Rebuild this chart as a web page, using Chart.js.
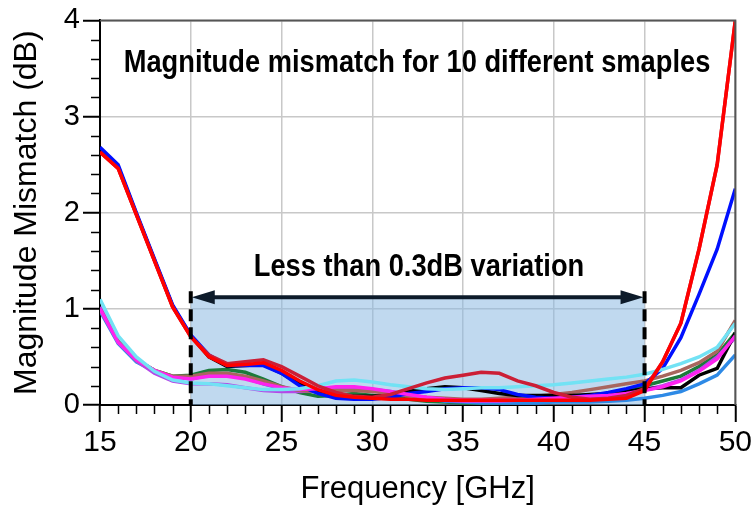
<!DOCTYPE html>
<html>
<head>
<meta charset="utf-8">
<script src="https://cdn.jsdelivr.net/npm/chart.js@4.4.1/dist/chart.umd.min.js"></script>
<style>
  html, body { margin: 0; padding: 0; background: #fff; }
</style>
</head>
<body>
<canvas id="chart" width="755" height="512"></canvas>
<script>
// frequency points, 1 GHz apart
const freqs = [15,16,17,18,19,20,21,22,23,24,25,26,27,28,29,30,31,32,33,34,35,36,37,38,39,40,41,42,43,44,45,46,47,48,49,50];

// magnitude mismatch (dB) for each sample
const sRed     = [2.63,2.46,1.98,1.50,1.02,0.71, 0.50,0.41,0.42,0.44,0.36,0.25,0.16,0.10,0.08,0.07, 0.06,0.06,0.05,0.05,0.05,0.05,0.05,0.05,0.05,0.05, 0.05,0.05,0.06,0.07,0.15,0.45,0.85,1.62,2.50,4.00];
const sCrimson = [2.63,2.46,1.98,1.50,1.02,0.71, 0.52,0.43,0.45,0.47,0.40,0.30,0.20,0.13,0.09,0.08, 0.11,0.17,0.23,0.28,0.31,0.34,0.33,0.25,0.20,0.13, 0.08,0.06,0.07,0.10,0.17,0.45,0.85,1.62,2.50,4.00];
const sBlue    = [2.68,2.50,2.00,1.52,1.04,0.73, 0.52,0.41,0.41,0.41,0.33,0.20,0.12,0.07,0.06,0.06, 0.08,0.12,0.14,0.17,0.18,0.18,0.16,0.11,0.08,0.07, 0.08,0.10,0.13,0.17,0.22,0.38,0.70,1.15,1.62,2.25];
const sBlack   = [2.66,2.48,1.99,1.51,1.03,0.72, 0.50,0.40,0.41,0.42,0.33,0.22,0.14,0.10,0.09,0.09, 0.10,0.14,0.17,0.19,0.18,0.15,0.12,0.10,0.10,0.10, 0.10,0.11,0.12,0.14,0.17,0.18,0.18,0.31,0.38,0.75];
const sCyan    = [1.10,0.72,0.50,0.35,0.26,0.23, 0.22,0.20,0.18,0.16,0.16,0.17,0.20,0.25,0.26,0.24, 0.21,0.19,0.17,0.16,0.17,0.18,0.18,0.19,0.20,0.21, 0.23,0.25,0.27,0.29,0.32,0.37,0.43,0.50,0.60,0.85];
const sMagenta = [1.00,0.65,0.47,0.36,0.29,0.27, 0.30,0.30,0.27,0.22,0.18,0.16,0.17,0.19,0.19,0.17, 0.14,0.11,0.08,0.06,0.05,0.05,0.05,0.05,0.06,0.07, 0.08,0.09,0.10,0.12,0.15,0.19,0.25,0.35,0.48,0.72];
const sBrown   = [1.00,0.66,0.47,0.36,0.30,0.30, 0.33,0.33,0.30,0.25,0.19,0.15,0.14,0.15,0.15,0.14, 0.12,0.10,0.08,0.07,0.06,0.06,0.07,0.08,0.09,0.11, 0.13,0.16,0.19,0.22,0.25,0.30,0.36,0.44,0.56,0.88];
const sPurple  = [1.02,0.66,0.46,0.33,0.25,0.22, 0.22,0.21,0.18,0.15,0.14,0.14,0.15,0.17,0.17,0.15, 0.13,0.10,0.07,0.05,0.04,0.04,0.04,0.05,0.06,0.07, 0.08,0.10,0.11,0.13,0.16,0.20,0.26,0.36,0.50,0.70];
const sDodger  = [0.98,0.64,0.45,0.35,0.29,0.27, 0.31,0.32,0.28,0.22,0.17,0.15,0.16,0.17,0.17,0.16, 0.14,0.11,0.07,0.04,0.03,0.02,0.02,0.02,0.02,0.03, 0.03,0.03,0.04,0.05,0.07,0.10,0.14,0.22,0.31,0.52];
const sGreen   = [1.00,0.66,0.47,0.36,0.30,0.31, 0.36,0.37,0.34,0.27,0.19,0.13,0.09,0.10,0.12,0.10, 0.08,0.06,0.04,0.03,0.02,0.02,0.02,0.03,0.04,0.05, 0.06,0.08,0.10,0.14,0.20,0.25,0.30,0.40,0.52,0.75];

const xTicks = [15,20,25,30,35,40,45,50];
const yTicks = [0,1,2,3,4];

// the band where variation stays under 0.3 dB
const bandStart = 20, bandEnd = 45, bandTop = 1.12;

const FONT = '"Liberation Sans", Arial, sans-serif';

const series = [
  { data: sRed, color: '#ff0000' },
  { data: sCrimson, color: '#cc1f36' },
  { data: sCyan, color: '#72e2f4' },
  { data: sMagenta, color: '#ff22ee' },
  { data: sBlue, color: '#0010ff' },
  { data: sBlack, color: '#000000' },
  { data: sBrown, color: '#a8665e' },
  { data: sPurple, color: '#b448e8' },
  { data: sDodger, color: '#2e8ae6' },
  { data: sGreen, color: '#1c7a3a' },
];

const bandShade = {
  id: 'bandShade',
  beforeDatasetsDraw(chart) {
    const { ctx, scales: { x, y } } = chart;
    const l = x.getPixelForValue(bandStart), r = x.getPixelForValue(bandEnd);
    const t = y.getPixelForValue(bandTop), b = y.getPixelForValue(0);
    ctx.save();
    ctx.fillStyle = 'rgba(140, 185, 225, 0.55)';
    ctx.fillRect(l, t, r - l, b - t);
    ctx.restore();
  }
};

// condensed bold text, squeezed horizontally
function narrowText(ctx, text, cx, baseline) {
  ctx.save();
  ctx.translate(cx, baseline);
  ctx.scale(0.88, 1);
  ctx.fillText(text, 0, 0);
  ctx.restore();
}

const annotations = {
  id: 'annotations',
  afterDatasetsDraw(chart) {
    const { ctx, scales: { x, y } } = chart;
    const l = x.getPixelForValue(bandStart), r = x.getPixelForValue(bandEnd);
    const t = y.getPixelForValue(bandTop), b = y.getPixelForValue(0);
    ctx.save();
    // dashed band edges
    ctx.strokeStyle = '#000';
    ctx.lineWidth = 4;
    ctx.setLineDash([12, 6]);
    ctx.beginPath();
    ctx.moveTo(l, t - 6); ctx.lineTo(l, b);
    ctx.moveTo(r, t - 6); ctx.lineTo(r, b);
    ctx.stroke();
    ctx.setLineDash([]);
    // double arrow
    ctx.strokeStyle = '#0d1b2a';
    ctx.fillStyle = '#0d1b2a';
    ctx.lineWidth = 4;
    ctx.beginPath();
    ctx.moveTo(l + 20, t); ctx.lineTo(r - 20, t);
    ctx.stroke();
    ctx.beginPath();
    ctx.moveTo(l + 1, t); ctx.lineTo(l + 24, t - 7); ctx.lineTo(l + 24, t + 7); ctx.closePath();
    ctx.moveTo(r - 1, t); ctx.lineTo(r - 24, t - 7); ctx.lineTo(r - 24, t + 7); ctx.closePath();
    ctx.fill();
    // texts
    ctx.fillStyle = '#000';
    ctx.textAlign = 'center';
    ctx.textBaseline = 'alphabetic';
    ctx.font = 'bold 31px ' + FONT;
    narrowText(ctx, 'Magnitude mismatch for 10 different smaples', 417, 72);
    narrowText(ctx, 'Less than 0.3dB variation', 419, 276);
    ctx.restore();
  }
};

const frameAndMinor = {
  id: 'frameAndMinor',
  afterDraw(chart) {
    const { ctx, chartArea: a, scales: { x, y } } = chart;
    ctx.save();
    ctx.strokeStyle = '#555';
    ctx.lineWidth = 2;
    ctx.beginPath();
    ctx.moveTo(a.left, a.top); ctx.lineTo(a.right, a.top); ctx.lineTo(a.right, a.bottom);
    ctx.stroke();
    ctx.strokeStyle = '#000';
    ctx.lineWidth = 1.5;
    ctx.beginPath();
    for (let v = freqs[0]; v <= freqs[freqs.length - 1]; v++) {
      if (v % 5 === 0) continue;
      const px = Math.round(x.getPixelForValue(v)) + 0.5;
      ctx.moveTo(px, a.bottom); ctx.lineTo(px, a.bottom + 9);
    }
    for (let k = 1; k < 20; k++) {
      if (k % 5 === 0) continue;
      const py = Math.round(y.getPixelForValue(k * 0.2)) + 0.5;
      ctx.moveTo(a.left, py); ctx.lineTo(a.left - 9, py);
    }
    ctx.stroke();
    ctx.restore();
  }
};

new Chart(document.getElementById('chart'), {
  type: 'line',
  data: {
    datasets: series.map(s => ({
      data: freqs.map((f, i) => ({ x: f, y: s.data[i] })),
      borderColor: s.color,
      borderWidth: 3.5,
      pointRadius: 0,
      tension: 0,
      fill: false,
    })),
  },
  options: {
    responsive: false,
    animation: false,
    layout: { padding: { top: 19, right: 18, left: 0, bottom: 0 } },
    plugins: { legend: { display: false }, tooltip: { enabled: false } },
    scales: {
      x: {
        type: 'linear',
        min: 15, max: 50,
        afterFit: s => { s.height = 107; },
        afterBuildTicks: s => { s.ticks = xTicks.map(v => ({ value: v })); },
        ticks: { color: '#000', font: { family: FONT, size: 30 }, padding: 3, maxRotation: 0 },
        grid: { color: '#c8c8c8', lineWidth: 1.5, tickLength: 17, tickColor: '#000', tickWidth: 2 },
        border: { color: '#000', width: 2 },
        title: { display: true, text: 'Frequency [GHz]', color: '#000', font: { family: FONT, size: 31 }, padding: { top: 8 } },
      },
      y: {
        min: 0, max: 4,
        afterFit: s => { s.width = 100; },
        afterBuildTicks: s => { s.ticks = yTicks.map(v => ({ value: v })); },
        ticks: { color: '#000', font: { family: FONT, size: 29 }, padding: 3 },
        grid: { color: '#c8c8c8', lineWidth: 1.5, tickLength: 17, tickColor: '#000', tickWidth: 2 },
        border: { color: '#000', width: 2 },
        title: { display: true, text: 'Magnitude Mismatch (dB)', color: '#000', font: { family: FONT, size: 32 }, padding: { top: 8 } },
      },
    },
  },
  plugins: [bandShade, annotations, frameAndMinor],
});
</script>
</body>
</html>
